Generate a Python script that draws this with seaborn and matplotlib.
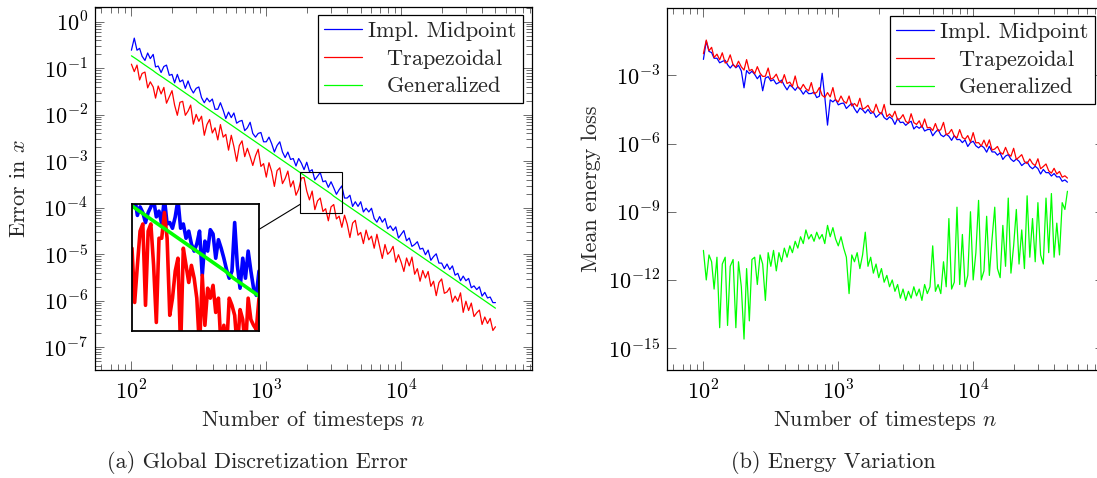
import numpy as np
import pandas as pd
import matplotlib
matplotlib.use("Agg")
import matplotlib.pyplot as plt
import seaborn as sns
from matplotlib.ticker import FixedLocator, FixedFormatter, LogLocator, NullLocator, NullFormatter
from matplotlib.patches import Rectangle, ConnectionPatch

# ---------------- data (values stored as log10 exponents) ----------------
n_steps = [100, 105, 110, 115, 120, 126, 132, 138, 145, 151,
           158, 166, 174, 182, 191, 200, 209, 219, 229, 240,
           251, 263, 275, 288, 302, 316, 331, 347, 363, 380,
           398, 417, 437, 457, 479, 501, 525, 550, 575, 603,
           631, 661, 692, 724, 759, 794, 832, 871, 912, 955,
           1000, 1047, 1096, 1148, 1202, 1259, 1318, 1380, 1445, 1514,
           1585, 1660, 1738, 1820, 1905, 1995, 2089, 2188, 2291, 2399,
           2512, 2630, 2754, 2884, 3020, 3162, 3311, 3467, 3631, 3802,
           3981, 4169, 4365, 4571, 4786, 5012, 5248, 5495, 5754, 6026,
           6310, 6607, 6918, 7244, 7586, 7943, 8318, 8710, 9120, 9550,
           10000, 10471, 10965, 11482, 12023, 12589, 13183, 13804, 14454, 15136,
           15849, 16596, 17378, 18197, 19055, 19953, 20893, 21878, 22909, 23988,
           25119, 26303, 27542, 28840, 30200, 31623, 33113, 34674, 36308, 38019,
           39811, 41687, 43652, 45709, 47863, 50000]

# (a) global error in x, log10
err_midpoint_exp = [-0.61, -0.35, -0.61, -0.57, -0.74, -0.83, -0.67, -0.79, -0.70, -0.97,
                    -0.95, -1.09, -0.96, -0.93, -1.15, -1.13, -1.31, -1.13, -1.29, -1.25,
                    -1.43, -1.27, -1.43, -1.53, -1.43, -1.40, -1.63, -1.74, -1.64, -1.72,
                    -1.66, -1.88, -1.88, -1.74, -1.90, -2.08, -1.94, -2.06, -1.96, -2.18,
                    -2.14, -2.12, -2.34, -2.28, -2.16, -2.40, -2.48, -2.40, -2.38, -2.58,
                    -2.58, -2.48, -2.62, -2.80, -2.66, -2.58, -2.80, -2.92, -2.80, -2.96,
                    -2.94, -3.10, -2.94, -3.04, -3.18, -3.02, -3.22, -3.18, -3.40, -3.32,
                    -3.24, -3.44, -3.42, -3.56, -3.44, -3.57, -3.71, -3.61, -3.53, -3.79,
                    -3.79, -3.73, -3.97, -3.87, -3.97, -3.87, -4.09, -4.01, -4.09, -4.01,
                    -4.23, -4.31, -4.19, -4.31, -4.23, -4.45, -4.39, -4.49, -4.41, -4.65,
                    -4.57, -4.49, -4.71, -4.65, -4.83, -4.79, -4.73, -4.89, -4.87, -5.01,
                    -4.91, -5.13, -5.05, -4.99, -5.19, -5.19, -5.31, -5.21, -5.33, -5.25,
                    -5.45, -5.41, -5.57, -5.47, -5.57, -5.52, -5.72, -5.68, -5.76, -5.70,
                    -5.90, -5.82, -5.94, -5.92, -6.04, -6.04]
err_trapezoidal_exp = [-0.91, -1.07, -0.93, -1.25, -1.11, -1.08, -1.42, -1.29, -1.40, -1.64,
                       -1.38, -1.55, -1.41, -1.75, -1.61, -1.48, -1.79, -2.01, -1.73, -1.71,
                       -2.01, -1.92, -1.79, -2.20, -1.99, -2.14, -2.03, -2.44, -2.21, -2.10,
                       -2.39, -2.28, -2.54, -2.21, -2.48, -2.42, -2.76, -2.44, -2.68, -3.00,
                       -2.66, -2.56, -2.90, -2.72, -2.90, -3.09, -2.88, -2.74, -3.11, -3.05,
                       -3.34, -3.03, -3.22, -3.54, -3.20, -3.14, -3.48, -3.37, -3.21, -3.55,
                       -3.42, -3.73, -3.60, -3.36, -3.35, -3.64, -3.83, -3.64, -4.04, -3.85,
                       -3.79, -4.08, -4.02, -4.28, -3.98, -3.93, -4.24, -4.18, -4.42, -4.16,
                       -4.35, -4.64, -4.33, -4.27, -4.59, -4.53, -4.77, -4.48, -4.69, -4.61,
                       -4.87, -4.57, -4.83, -5.09, -4.79, -5.00, -4.94, -4.83, -5.17, -5.01,
                       -5.17, -5.37, -5.08, -5.25, -5.06, -5.43, -5.31, -5.58, -5.35, -5.51,
                       -5.37, -5.69, -5.58, -5.89, -5.61, -5.53, -5.84, -5.81, -5.72, -6.03,
                       -5.90, -6.01, -5.83, -6.25, -6.01, -6.21, -6.05, -6.34, -6.26, -6.20,
                       -6.51, -6.35, -6.49, -6.38, -6.64, -6.56]
err_generalized_exp = [-0.73, -0.77, -0.81, -0.85, -0.89, -0.93, -0.97, -1.01, -1.05, -1.09,
                       -1.13, -1.17, -1.21, -1.25, -1.29, -1.33, -1.37, -1.41, -1.45, -1.49,
                       -1.53, -1.57, -1.61, -1.65, -1.69, -1.74, -1.78, -1.82, -1.86, -1.90,
                       -1.94, -1.98, -2.02, -2.06, -2.10, -2.14, -2.18, -2.22, -2.26, -2.30,
                       -2.34, -2.38, -2.42, -2.46, -2.50, -2.54, -2.58, -2.62, -2.66, -2.70,
                       -2.74, -2.78, -2.82, -2.86, -2.90, -2.94, -2.98, -3.02, -3.06, -3.10,
                       -3.14, -3.18, -3.22, -3.26, -3.30, -3.34, -3.38, -3.42, -3.46, -3.50,
                       -3.54, -3.58, -3.62, -3.66, -3.70, -3.75, -3.79, -3.83, -3.87, -3.91,
                       -3.95, -3.99, -4.03, -4.07, -4.11, -4.15, -4.19, -4.23, -4.27, -4.31,
                       -4.35, -4.39, -4.43, -4.47, -4.51, -4.55, -4.59, -4.63, -4.67, -4.71,
                       -4.75, -4.79, -4.83, -4.87, -4.91, -4.95, -4.99, -5.03, -5.07, -5.11,
                       -5.15, -5.19, -5.23, -5.27, -5.31, -5.35, -5.39, -5.43, -5.47, -5.51,
                       -5.55, -5.59, -5.63, -5.67, -5.71, -5.76, -5.80, -5.84, -5.88, -5.92,
                       -5.96, -6.00, -6.04, -6.08, -6.12, -6.16]

# zoomed inset of panel (a)
inset_n = [1786, 1813, 1841, 1869, 1898, 1927, 1956, 1986, 2017, 2048,
           2079, 2111, 2143, 2176, 2209, 2243, 2278, 2313, 2348, 2384,
           2421, 2458, 2495, 2534, 2572, 2612, 2652, 2692, 2734, 2775,
           2818, 2861, 2905, 2950, 2995, 3041, 3087, 3135, 3183, 3231,
           3281, 3331, 3382, 3434, 3487, 3540, 3595, 3650]
inset_midpoint_exp = [-3.15, -3.18, -3.31, -3.25, -3.29, -3.36, -3.29, -3.25, -3.20, -3.32,
                      -3.28, -3.37, -3.19, -3.37, -3.36, -3.40, -3.32, -3.20, -3.40, -3.37,
                      -3.47, -3.42, -3.51, -3.56, -3.51, -3.42, -3.73, -3.49, -3.56, -3.41,
                      -3.44, -3.61, -3.48, -3.54, -3.61, -3.69, -3.75, -3.70, -3.36, -3.66,
                      -3.82, -3.61, -3.75, -3.56, -3.70, -3.82, -3.87, -3.70]
inset_trapezoidal_exp = [-3.54, -3.92, -3.66, -3.42, -3.37, -3.94, -3.42, -3.37, -3.66, -4.06,
                         -3.47, -3.47, -3.29, -3.47, -4.01, -3.89, -3.70, -3.61, -4.25, -3.54,
                         -3.66, -3.78, -3.66, -3.75, -3.89, -4.25, -3.73, -4.08, -3.82, -3.89,
                         -3.80, -3.99, -3.89, -4.25, -4.08, -4.25, -3.89, -3.94, -4.01, -4.25,
                         -3.97, -4.04, -4.25, -3.89, -4.04, -4.08, -4.11, -3.89]
zoom_n = (1786, 3650)
zoom_err_exp = (-4.12, -3.23)

# (b) mean energy loss, log10
energy_midpoint_exp = [-2.30, -1.50, -1.95, -2.00, -2.25, -2.25, -2.45, -2.39, -2.34, -2.53,
                       -2.68, -2.52, -2.67, -2.56, -2.81, -3.55, -2.79, -2.93, -2.82, -2.96,
                       -3.15, -2.99, -3.68, -3.12, -3.06, -3.25, -3.19, -3.38, -3.32, -3.21,
                       -3.45, -3.64, -3.43, -3.52, -3.66, -3.50, -3.64, -3.83, -3.67, -3.81,
                       -3.80, -3.74, -3.98, -3.92, -2.91, -3.95, -5.19, -4.08, -4.17, -4.06,
                       -4.30, -4.24, -4.22, -4.46, -4.34, -4.23, -4.47, -4.65, -4.44, -4.52,
                       -4.66, -4.50, -4.68, -4.62, -4.85, -4.74, -4.63, -4.86, -4.95, -4.83,
                       -4.92, -5.16, -4.89, -5.08, -5.06, -5.20, -5.09, -5.02, -5.36, -5.24,
                       -5.33, -5.22, -5.45, -5.39, -5.37, -5.66, -5.50, -5.38, -5.62, -5.70,
                       -5.59, -5.68, -5.86, -5.65, -5.83, -5.82, -5.96, -5.84, -6.13, -5.96,
                       -5.90, -6.10, -6.19, -6.09, -6.18, -6.38, -6.12, -6.37, -6.37, -6.51,
                       -6.41, -6.70, -6.55, -6.49, -6.69, -6.79, -6.68, -6.78, -6.97, -6.87,
                       -6.81, -7.01, -7.11, -7.00, -7.10, -7.34, -7.14, -7.28, -7.28, -7.43,
                       -7.32, -7.47, -7.46, -7.66, -7.60, -7.70]
energy_trapezoidal_exp = [-2.05, -1.45, -1.92, -1.77, -2.22, -2.07, -2.32, -2.01, -2.46, -2.40,
                          -2.10, -2.54, -2.64, -2.38, -2.63, -2.77, -2.31, -2.80, -2.74, -2.93,
                          -2.62, -2.91, -3.05, -3.04, -2.68, -3.17, -3.11, -2.95, -3.24, -3.33,
                          -2.97, -3.36, -3.30, -3.49, -3.03, -3.52, -3.61, -3.40, -3.59, -3.68,
                          -3.32, -3.81, -3.75, -3.54, -3.88, -3.97, -3.76, -3.95, -3.54, -4.08,
                          -4.17, -3.91, -4.14, -4.23, -3.91, -4.35, -4.24, -4.37, -4.01, -4.49,
                          -4.43, -4.32, -4.55, -4.64, -4.27, -4.61, -4.70, -4.28, -4.82, -4.70,
                          -4.84, -4.58, -4.96, -4.90, -4.73, -5.02, -5.11, -4.69, -5.08, -5.16,
                          -5.00, -5.29, -4.92, -5.31, -5.29, -5.43, -5.12, -5.45, -5.39, -5.07,
                          -5.61, -5.55, -5.38, -5.67, -5.75, -5.39, -5.73, -5.81, -5.65, -5.93,
                          -5.52, -5.97, -5.96, -6.11, -5.85, -6.15, -5.84, -6.29, -6.24, -6.13,
                          -6.38, -6.47, -6.17, -6.46, -6.56, -6.21, -6.70, -6.60, -6.49, -6.79,
                          -6.88, -6.68, -6.88, -6.97, -6.67, -7.11, -7.01, -6.90, -7.20, -7.30,
                          -7.09, -7.34, -7.23, -7.48, -7.42, -7.52]
energy_generalized_exp = [-10.7, -12.0, -10.9, -11.2, -12.4, -11.0, -14.1, -11.3, -11.0, -14.0,
                          -11.4, -11.1, -14.1, -11.2, -12.3, -14.6, -11.5, -13.8, -11.1, -11.0,
                          -12.2, -10.9, -11.3, -12.9, -10.8, -11.4, -10.7, -11.6, -10.8, -11.2,
                          -10.6, -11.0, -10.5, -10.8, -10.3, -10.6, -10.1, -10.4, -9.8, -10.2,
                          -10.0, -10.3, -9.9, -10.2, -10.0, -10.4, -9.6, -10.1, -9.7, -10.2,
                          -10.5, -10.1, -10.6, -11.0, -12.6, -10.9, -11.2, -10.8, -11.5, -10.9,
                          -9.9, -11.4, -11.0, -11.7, -11.3, -11.9, -11.5, -12.1, -11.8, -12.3,
                          -12.0, -12.5, -12.2, -12.8, -12.4, -12.9, -12.5, -12.8, -12.3, -12.7,
                          -12.4, -12.9, -12.2, -12.6, -12.3, -10.5, -12.5, -12.2, -12.6, -11.2,
                          -12.3, -9.3, -12.4, -12.1, -8.8, -12.2, -10.0, -12.3, -11.8, -9.0,
                          -12.0, -10.8, -8.5, -12.0, -11.6, -9.2, -11.8, -10.2, -8.8, -11.5,
                          -11.9, -9.6, -11.4, -8.4, -11.7, -10.5, -8.9, -11.3, -9.8, -11.5,
                          -8.3, -11.0, -9.3, -11.2, -8.6, -10.9, -11.3, -8.4, -10.8, -8.2,
                          -11.0, -9.5, -10.9, -8.6, -8.9, -8.1]

methods = ["Impl. Midpoint", "Trapezoidal", "Generalized"]
legend_labels = ["Impl. Midpoint", r"$\enspace\;\,$Trapezoidal", r"$\enspace\;\,$Generalized"]
palette = {"Impl. Midpoint": "#0000ff", "Trapezoidal": "#ff0000", "Generalized": "#00ff00"}

xtick_values = [1e2, 1e3, 1e4]
xtick_labels = [r"$10^{2}$", r"$10^{3}$", r"$10^{4}$"]
ytick_values_a = [1e0, 1e-1, 1e-2, 1e-3, 1e-4, 1e-5, 1e-6, 1e-7]
ytick_labels_a = [r"$10^{0}$", r"$10^{-1}$", r"$10^{-2}$", r"$10^{-3}$",
                  r"$10^{-4}$", r"$10^{-5}$", r"$10^{-6}$", r"$10^{-7}$"]
ytick_values_b = [1e-3, 1e-6, 1e-9, 1e-12, 1e-15]
ytick_labels_b = [r"$10^{-3}$", r"$10^{-6}$", r"$10^{-9}$", r"$10^{-12}$", r"$10^{-15}$"]

xlabel = r"Number of timesteps $n$"
ylabel_a = r"Error in $x$"
ylabel_b = "Mean energy loss"
caption_a = "(a) Global Discretization Error"
caption_b = "(b) Energy Variation"

FS = 16


def long_frame(n, series):
    parts = []
    for name, exps in series.items():
        parts.append(pd.DataFrame({"n": np.asarray(n, float),
                                   "value": 10.0 ** np.asarray(exps, float),
                                   "method": name}))
    return pd.concat(parts, ignore_index=True)


df_a = long_frame(n_steps, {"Impl. Midpoint": err_midpoint_exp,
                            "Trapezoidal": err_trapezoidal_exp,
                            "Generalized": err_generalized_exp})
df_b = long_frame(n_steps, {"Impl. Midpoint": energy_midpoint_exp,
                            "Trapezoidal": energy_trapezoidal_exp,
                            "Generalized": energy_generalized_exp})
df_inset = pd.concat([
    long_frame(inset_n, {"Impl. Midpoint": inset_midpoint_exp,
                         "Trapezoidal": inset_trapezoidal_exp}),
    long_frame(n_steps, {"Generalized": err_generalized_exp}),
], ignore_index=True)

# ---------------- style ----------------
sns.set_style("ticks")
plt.rcParams.update({
    "mathtext.fontset": "cm",
    "axes.formatter.use_mathtext": True,
    "font.size": FS,
    "savefig.facecolor": "white",
})
plt.rcParams["font.family"] = ["cmr10", "DejaVu Serif"]

W, H = 1097, 478
fig = plt.figure(figsize=(W / 100, H / 100), dpi=100)
fig.patch.set_facecolor("white")


def px_axes(x0, y0, x1, y1):
    return fig.add_axes([x0 / W, 1 - y1 / H, (x1 - x0) / W, (y1 - y0) / H])


def style_axes(ax, yvals, ylabels, yminor):
    ax.set_xscale("log")
    ax.set_yscale("log")
    ax.set_xlim(10 ** 1.73, 10 ** 4.97)
    ax.xaxis.set_major_locator(FixedLocator(xtick_values))
    ax.xaxis.set_major_formatter(FixedFormatter(xtick_labels))
    ax.xaxis.set_minor_locator(LogLocator(base=10, subs=np.arange(2, 10), numticks=30))
    ax.xaxis.set_minor_formatter(NullFormatter())
    ax.yaxis.set_major_locator(FixedLocator(yvals))
    ax.yaxis.set_major_formatter(FixedFormatter(ylabels))
    if yminor:
        ax.yaxis.set_minor_locator(LogLocator(base=10, subs=np.arange(2, 10), numticks=30))
    else:
        ax.yaxis.set_minor_locator(NullLocator())
    ax.yaxis.set_minor_formatter(NullFormatter())
    ax.tick_params(which="both", direction="in", top=True, right=True,
                   color="#555555", width=0.6, labelsize=FS, labelcolor="black")
    ax.tick_params(which="major", length=6.2)
    ax.tick_params(which="minor", length=4.0)
    ax.tick_params(axis="x", which="major", pad=7)
    ax.tick_params(axis="y", which="major", pad=5)
    for s in ax.spines.values():
        s.set_linewidth(0.9)
        s.set_color("black")
    ax.set_xlabel(xlabel, fontsize=FS)
    ax.xaxis.set_label_coords(0.5, -0.105)
    ax.xaxis.label.set_va("top")
    ax.yaxis.set_label_coords(-0.150, 0.5)
    ax.set_facecolor("white")


def add_legend(ax):
    leg = ax.legend(handles=list(ax.lines[:3]), labels=legend_labels,
                    loc="upper right", bbox_to_anchor=(0.979, 0.978), borderaxespad=0,
                    frameon=True, fancybox=False, edgecolor="black", framealpha=1,
                    handlelength=1.7, handletextpad=0.25, labelspacing=0.25,
                    borderpad=0.3, fontsize=FS)
    leg.get_frame().set_linewidth(0.9)
    return leg


# ---------------- panel (a) ----------------
ax1 = px_axes(95, 7, 532, 370)
ax1.set_xscale("log")
ax1.set_yscale("log")
sns.lineplot(data=df_a, x="n", y="value", hue="method", hue_order=methods,
             palette=palette, estimator=None, sort=False, linewidth=0.9,
             legend=False, ax=ax1)
style_axes(ax1, ytick_values_a, ytick_labels_a, True)
ax1.set_ylim(10 ** -7.49, 10 ** 0.32)
ax1.set_ylabel(ylabel_a, fontsize=FS)
add_legend(ax1)

# zoom window rectangle
z_lo, z_hi = 10 ** zoom_err_exp[0], 10 ** zoom_err_exp[1]
ax1.add_patch(Rectangle((zoom_n[0], z_lo), zoom_n[1] - zoom_n[0], z_hi - z_lo,
                        fill=False, edgecolor="black", linewidth=0.8, zorder=6))

# inset
axins = px_axes(132, 204, 259, 331)
axins.set_xscale("log")
axins.set_yscale("log")
sns.lineplot(data=df_inset, x="n", y="value", hue="method", hue_order=methods,
             palette=palette, estimator=None, sort=False, linewidth=2.6,
             legend=False, ax=axins)
axins.set_xlim(*zoom_n)
axins.set_ylim(z_lo, z_hi)
for axis in (axins.xaxis, axins.yaxis):
    axis.set_major_locator(NullLocator())
    axis.set_minor_locator(NullLocator())
axins.set_xlabel("")
axins.set_ylabel("")
axins.set_facecolor("white")
for s in axins.spines.values():
    s.set_linewidth(1.3)
    s.set_color("black")

y_conn = 10 ** (zoom_err_exp[0] + 0.22 * (zoom_err_exp[1] - zoom_err_exp[0]))
con = ConnectionPatch(xyA=(1.0, 0.8), coordsA=axins.transAxes,
                      xyB=(zoom_n[0], y_conn), coordsB=ax1.transData,
                      color="black", linewidth=0.8)
fig.add_artist(con)

# ---------------- panel (b) ----------------
ax2 = px_axes(667, 8, 1104, 370)
ax2.set_xscale("log")
ax2.set_yscale("log")
sns.lineplot(data=df_b, x="n", y="value", hue="method", hue_order=methods,
             palette=palette, estimator=None, sort=False, linewidth=0.9,
             legend=False, ax=ax2)
style_axes(ax2, ytick_values_b, ytick_labels_b, False)
ax2.set_ylim(10 ** -15.96, 10 ** -0.04)
ax2.set_ylabel(ylabel_b, fontsize=FS)
add_legend(ax2)

# captions
fig.text(257 / W, 1 - 463 / H, caption_a, ha="center", va="center", fontsize=FS)
fig.text(833 / W, 1 - 463 / H, caption_b, ha="center", va="center", fontsize=FS)

fig.savefig("out.png", dpi=100, facecolor="white")
